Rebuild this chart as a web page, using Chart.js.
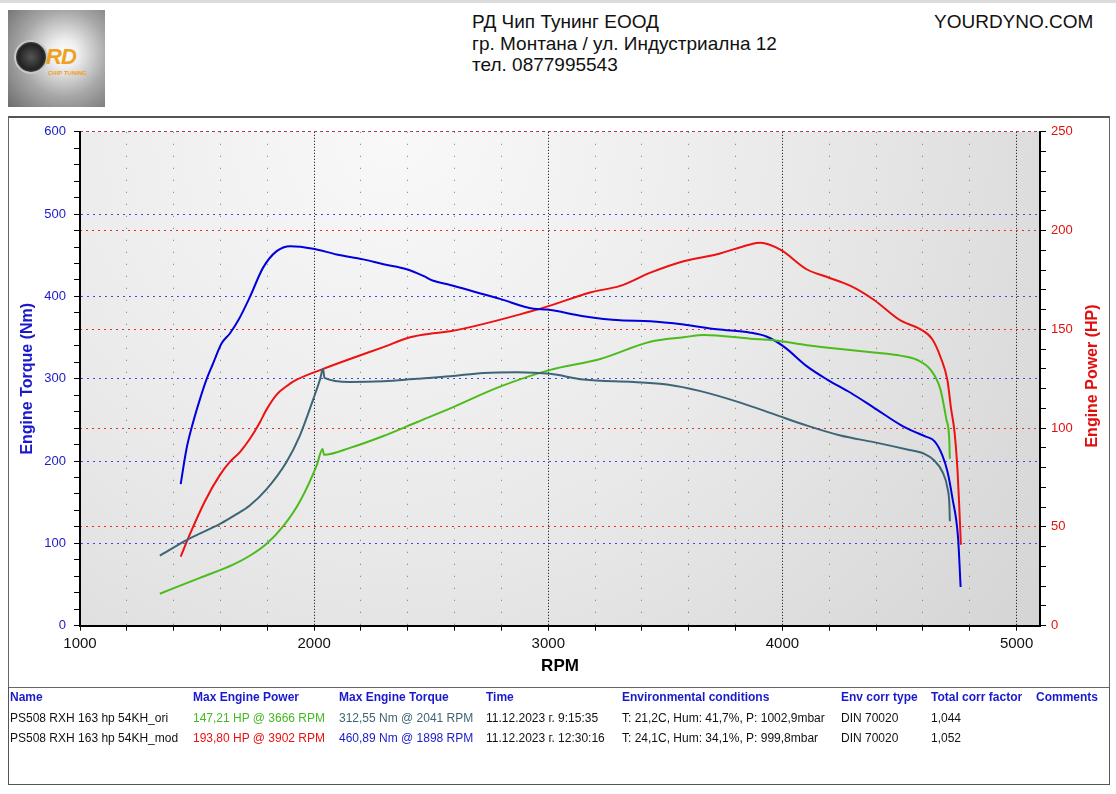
<!DOCTYPE html>
<html>
<head>
<meta charset="utf-8">
<script src="https://cdn.jsdelivr.net/npm/chart.js@4/dist/chart.umd.min.js"></script>
<style>
  body { margin:0; background:#fff; font-family:"Liberation Sans", Arial, sans-serif; }
  #page { position:relative; width:1116px; height:794px; overflow:hidden; background:#fff; }
  #topbar { position:absolute; left:0; top:0; width:1116px; height:3px; background:#dcdcdc; }
  #logo { position:absolute; left:8px; top:10px; width:97px; height:97px; overflow:hidden;
          background:radial-gradient(circle at 58% 45%, #ffffff 0%, #eeeeee 18%, #a8a8a8 55%, #6c6c6c 100%); }
  #turbo { position:absolute; left:6px; top:30px; width:30px; height:30px; border-radius:50%;
           background:radial-gradient(circle, #555 0%, #222 60%, #999 100%); border:2px solid #c8c8c8; }
  #rd { position:absolute; left:38px; top:34px; font:italic bold 22px "Liberation Sans", Arial, sans-serif; color:#f0a020; letter-spacing:-1px; }
  #ct { position:absolute; left:40px; top:60px; font:bold 6px "Liberation Sans", Arial, sans-serif; color:#f0a020; }
  .hdr { position:absolute; left:472px; font-size:19px; line-height:22px; color:#111; white-space:nowrap; }
  #yd { position:absolute; left:934px; top:11px; font-size:19px; line-height:22px; color:#111; }
  #chartwrap { position:absolute; left:8px; top:116px; width:1102px; height:572px; }
  #frame { position:absolute; left:8px; top:116px; width:1102px; height:572px; box-sizing:border-box;
           border:1px solid #666; border-top:2px solid #555; pointer-events:none; }
  #ptitle { position:absolute; left:1092px; top:376px; transform:translate(-50%,-50%) rotate(-90deg);
            font:bold 16px "Liberation Sans", Arial, sans-serif; color:#e01010; white-space:nowrap; }
  #tbl { position:absolute; left:8px; top:687px; width:1102px; height:98px; box-sizing:border-box;
         border:1px solid #555; border-top:none; }
  .c { position:absolute; font-size:12px; line-height:14px; white-space:nowrap; color:#111; }
  .h { font-weight:bold; color:#1a1acc; }
</style>
</head>
<body>
<div id="page">
  <div id="topbar"></div>
  <div id="logo"><div id="turbo"></div><div id="rd">RD</div><div id="ct">CHIP TUNING</div></div>
  <div class="hdr" style="top:11px">РД Чип Тунинг ЕООД</div>
  <div class="hdr" style="top:33px">гр. Монтана / ул. Индустриална 12</div>
  <div class="hdr" style="top:54px">тел. 0877995543</div>
  <div id="yd">YOURDYNO.COM</div>

  <div id="chartwrap"><canvas id="c" width="1102" height="572"></canvas></div>
  <div id="frame"></div>
  <div id="ptitle">Engine Power (HP)</div>

  <div id="tbl"></div>
  <div class="c h" style="left:10px;top:690px">Name</div>
  <div class="c h" style="left:193px;top:690px">Max Engine Power</div>
  <div class="c h" style="left:339px;top:690px">Max Engine Torque</div>
  <div class="c h" style="left:486px;top:690px">Time</div>
  <div class="c h" style="left:622px;top:690px">Environmental conditions</div>
  <div class="c h" style="left:841px;top:690px">Env corr type</div>
  <div class="c h" style="left:931px;top:690px">Total corr factor</div>
  <div class="c h" style="left:1036px;top:690px">Comments</div>

  <div class="c" style="left:10px;top:711px">PS508 RXH 163 hp 54KH_ori</div>
  <div class="c" style="left:193px;top:711px;color:#44bb22">147,21 HP @ 3666 RPM</div>
  <div class="c" style="left:339px;top:711px;color:#3d6575">312,55 Nm @ 2041 RPM</div>
  <div class="c" style="left:486px;top:711px">11.12.2023 г. 9:15:35</div>
  <div class="c" style="left:622px;top:711px">T: 21,2C, Hum: 41,7%, P: 1002,9mbar</div>
  <div class="c" style="left:841px;top:711px">DIN 70020</div>
  <div class="c" style="left:931px;top:711px">1,044</div>

  <div class="c" style="left:10px;top:731px">PS508 RXH 163 hp 54KH_mod</div>
  <div class="c" style="left:193px;top:731px;color:#ee1111">193,80 HP @ 3902 RPM</div>
  <div class="c" style="left:339px;top:731px;color:#1a1acc">460,89 Nm @ 1898 RPM</div>
  <div class="c" style="left:486px;top:731px">11.12.2023 г. 12:30:16</div>
  <div class="c" style="left:622px;top:731px">T: 24,1C, Hum: 34,1%, P: 999,8mbar</div>
  <div class="c" style="left:841px;top:731px">DIN 70020</div>
  <div class="c" style="left:931px;top:731px">1,052</div>
</div>

<script>
// ---- Data ----
const modTorqueRpm = [1430,1455,1483,1512,1540,1569,1605,1640,1676,1725,1782,1840,1898,1996,2096,2210,2296,2395,2466,2509,2581,2794,2937,2994,3150,3307,3436,3578,3721,3863,3934,4006,4105,4191,4291,4390,4504,4560,4610,4650,4683,4705,4726,4750,4761];
const modTorqueNm  = [172,215,247,275,299,319,343,355,371,399,435,455,461,458,451,445,439,433,425,419,414,397,385,384,376,371,370,366,360,356,351,339,315,299,283,265,244,236,230,224,207,187,155,107,47];

const modPowerRpm = [1430,1469,1533,1597,1640,1683,1725,1768,1797,1840,1882,1925,2039,2153,2296,2410,2509,2581,2923,3008,3179,3307,3436,3578,3721,3863,3906,3991,4105,4191,4291,4390,4504,4590,4640,4675,4705,4720,4735,4748,4756,4762];
const modPowerHp  = [35,46.2,62.9,76.2,82.9,87.9,94.5,102.9,109.5,117,121.2,124.5,130,135,141,146,148,149,159,162,168.7,172,178.7,184.5,188,193,193.8,190.3,180.3,176.5,172,165,154.5,150,145,136,124,110,98,78,58,41];

const oriTorqueRpm = [1341,1455,1600,1660,1725,1797,1882,1939,1996,2025,2038,2044,2153,2296,2438,2581,2723,2866,3008,3150,3364,3507,3650,3820,3963,4105,4248,4390,4533,4604,4647,4683,4705,4713,4715];
const oriTorqueNm  = [85,104,124,134,146,166,199,231,275,299,312,301,296,297,300,303,307,308,306,299,296,293,285,271,257,243,231,223,214,209,201,187,167,147,127];

const oriPowerRpm = [1341,1512,1654,1725,1797,1868,1939,2011,2036,2042,2153,2296,2438,2581,2794,3008,3222,3436,3578,3666,3863,3963,4105,4248,4390,4504,4576,4633,4675,4700,4713,4714,4715];
const oriPowerHp  = [16.2,24.2,30.9,35.4,41.5,50.4,62.9,81.2,89.5,86.5,90,96,103,110,121,129.5,135,143.7,146,147.2,145.3,144.5,142,140,138.3,136.7,134.5,129.5,119.5,104.5,93,88,84.5];

const rpmMin = 1000, rpmMax = 5100;
const torqueMax = 600, powerMax = 250;

function pts(xs, ys) { return xs.map((x, i) => ({ x: x, y: ys[i] })); }

Chart.defaults.font.family = '"Liberation Sans", Arial, sans-serif';

const bgPlugin = {
  id: 'plotbg',
  beforeDraw(chart) {
    const { ctx, chartArea: a } = chart;
    const cx = a.left + a.width * 0.33, cy = a.top;
    const g = ctx.createRadialGradient(cx, cy, 0, cx, cy, a.width * 0.85);
    g.addColorStop(0, '#f9f9f9');
    g.addColorStop(0.5, '#e9e9e9');
    g.addColorStop(1, '#d4d4d4');
    ctx.save();
    ctx.fillStyle = g;
    ctx.fillRect(a.left, a.top, a.width, a.height);
    ctx.restore();
  }
};

const lineDs = (label, data, color, yAxis) => ({
  label, data, borderColor: color, backgroundColor: color, borderWidth: 2,
  pointRadius: 0, fill: false, cubicInterpolationMode: 'monotone', yAxisID: yAxis, xAxisID: 'x'
});

const isK = v => Math.abs(v / 1000 - Math.round(v / 1000)) < 1e-6;
const is200 = v => Math.abs(v / 200 - Math.round(v / 200)) < 1e-6;

new Chart(document.getElementById('c'), {
  type: 'line',
  data: {
    datasets: [
      lineDs('PS508 RXH 163 hp 54KH_ori torque', pts(oriTorqueRpm, oriTorqueNm), '#3d6575', 'y'),
      lineDs('PS508 RXH 163 hp 54KH_ori power', pts(oriPowerRpm, oriPowerHp), '#4cbb1e', 'y1'),
      lineDs('PS508 RXH 163 hp 54KH_mod torque', pts(modTorqueRpm, modTorqueNm), '#0000dd', 'y'),
      lineDs('PS508 RXH 163 hp 54KH_mod power', pts(modPowerRpm, modPowerHp), '#ee1111', 'y1')
    ]
  },
  options: {
    responsive: false,
    animation: false,
    layout: { padding: { top: 10, left: 0, right: 0, bottom: 0 } },
    plugins: { legend: { display: false }, tooltip: { enabled: false } },
    scales: {
      x: {
        type: 'linear', position: 'bottom', weight: 0, min: rpmMin, max: rpmMax,
        ticks: { stepSize: 200, includeBounds: false, autoSkip: false, maxRotation: 0, minRotation: 0, color: '#111', font: { size: 15 }, padding: 4,
                 callback: v => (isK(v) ? String(Math.round(v)) : '') },
        grid: { color: c => isK(c.tick.value) ? '#000' : 'rgba(0,0,0,0)',
                tickColor: c => is200(c.tick.value) ? '#000' : 'rgba(0,0,0,0)',
                drawTicks: true, tickLength: 5, lineWidth: 1 },
        border: { display: true, color: '#000', width: 2, dash: [1, 2] },
        title: { display: true, text: 'RPM', color: '#000', font: { size: 17, weight: 'bold' }, padding: { top: 0, bottom: 11 } },
        afterFit(s) { s.height = 62.3; }
      },
      xm: {
        type: 'linear', position: 'bottom', weight: 5, min: rpmMin, max: rpmMax, display: true,
        ticks: { display: false, stepSize: 200, includeBounds: false, autoSkip: false },
        grid: {
          color: c => (!isK(c.tick.value) && is200(c.tick.value)) ? 'rgba(60,110,60,0.8)' : 'rgba(0,0,0,0)',
          drawTicks: false, lineWidth: 1
        },
        border: { display: false, dash: [1, 11] },
        afterFit(s) { s.height = 0; }
      },
      y: {
        type: 'linear', position: 'left', min: 0, max: torqueMax,
        ticks: { stepSize: 20, autoSkip: false, color: '#1a1acc', font: { size: 13 }, padding: 8,
                 callback: v => (v % 100 === 0 ? String(v) : '') },
        grid: { color: c => (c.tick.value % 100 === 0 && c.tick.value > 0) ? '#4848e0' : 'rgba(0,0,0,0)',
                tickColor: '#000', tickLength: 6, lineWidth: 1 },
        border: { color: '#000', width: 2, dash: [2, 4] },
        title: { display: true, text: 'Engine Torque (Nm)', color: '#1a1acc', font: { size: 16, weight: 'bold' }, padding: { top: 10, bottom: 0 } },
        afterFit(s) { s.width = 72; }
      },
      y1: {
        type: 'linear', position: 'right', min: 0, max: powerMax,
        ticks: { stepSize: 10, autoSkip: false, color: '#e01010', font: { size: 13 }, padding: 5,
                 callback: v => (v % 50 === 0 ? String(v) : '') },
        grid: { drawOnChartArea: true, color: c => (c.tick.value % 50 === 0 && c.tick.value > 0) ? '#e03030' : 'rgba(0,0,0,0)',
                tickColor: '#000', tickLength: 6, lineWidth: 1 },
        border: { color: '#000', width: 2, dash: [2, 4] },
        afterFit(s) { s.width = 70; }
      }
    }
  },
  plugins: [bgPlugin]
});
</script>
</body>
</html>
